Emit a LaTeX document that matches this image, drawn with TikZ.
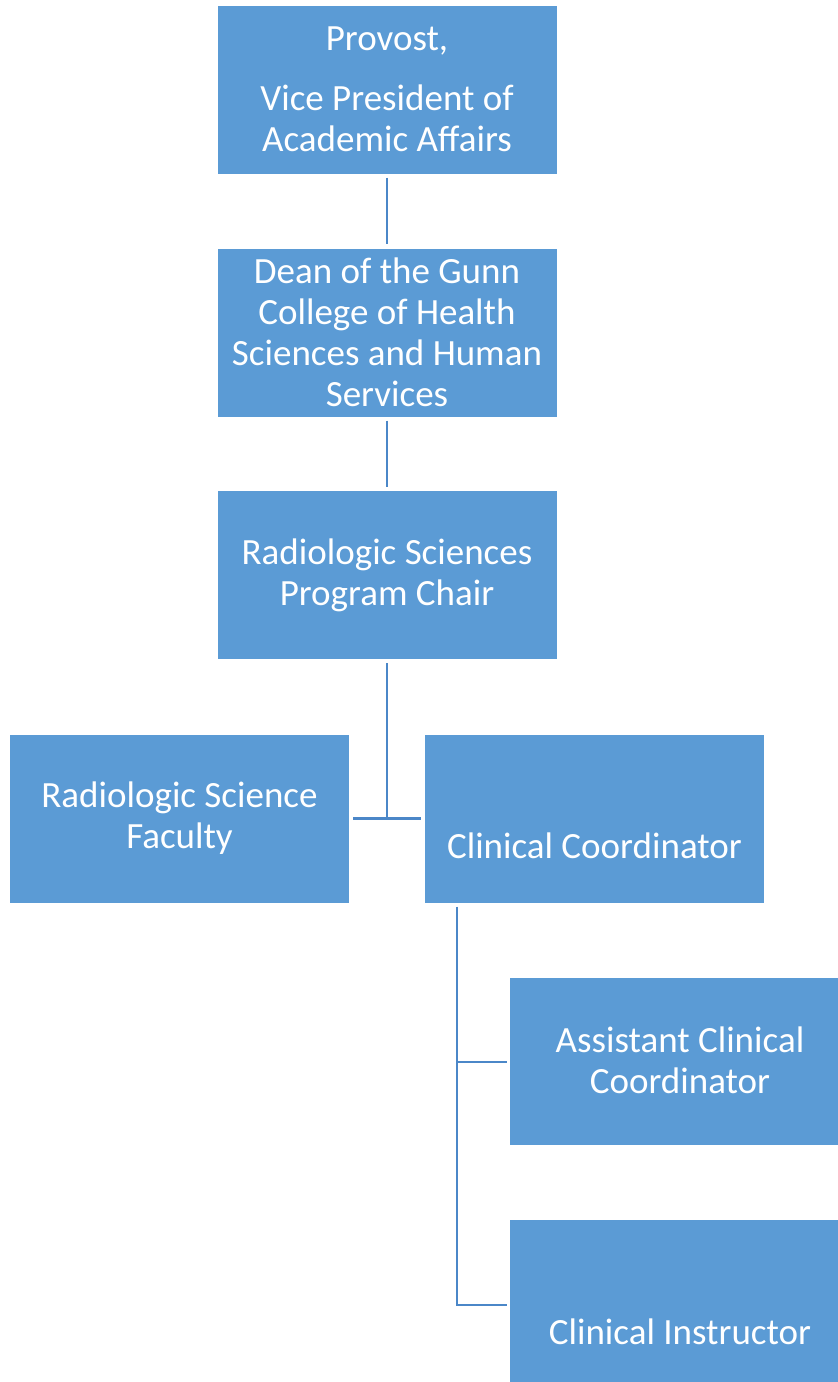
\documentclass[tikz,border=0pt]{standalone}
\usepackage{fontspec}
\setmainfont{Carlito}
\definecolor{boxblue}{HTML}{5B9BD5}
\definecolor{lineblue}{RGB}{75,135,200}
\newcommand{\orgfont}{\fontsize{37}{41}\selectfont}
\begin{document}
\begin{tikzpicture}[x=1pt,y=-1pt,
  orgbox/.style={draw=none,fill=boxblue,text=white,inner sep=0pt,
    minimum width=339pt,minimum height=168pt,align=center,
    font=\orgfont},
  conn/.style={draw=lineblue,line width=2.8pt,shorten <=4pt,shorten >=4pt},
  connb/.style={draw=lineblue,line width=2.8pt}]
\useasboundingbox (0,0) rectangle (838,1382);
\node[orgbox] (prov) at (387,89.5) {};
\node[text=white,font=\orgfont] (provt1) at (387,41) {Provost,};
\node[text=white,align=center,font=\orgfont] (provt2) at (387,118) {Vice President of\\Academic Affairs};
\node[orgbox] (dean) at (387,332.5) {Dean of the Gunn\\College of Health\\Sciences and Human\\Services};
\node[orgbox] (chair) at (387,575) {Radiologic Sciences\\Program Chair};
\node[orgbox] (fac) at (179.5,818.5) {Radiologic Science\\Faculty};
\node[orgbox,label={[text=white,font=\orgfont,yshift=-27pt]center:Clinical Coordinator}] (cc) at (594.5,818.5) {};
\node[orgbox,minimum width=328pt,minimum height=167pt,
  label={[text=white,align=center,font=\orgfont,xshift=6pt,yshift=1pt]center:Assistant Clinical\\Coordinator}] (acc) at (674,1061.5) {};
\node[orgbox,minimum width=328pt,minimum height=162pt,
  label={[text=white,font=\orgfont,xshift=6pt,yshift=-31pt]center:Clinical Instructor}] (ci) at (674,1301) {};
\coordinate (j1) at (387,818);
\coordinate (j2) at (457,1062);
\coordinate (j3) at (457,1305);
\draw[conn] (prov.south) -- (dean.north);
\draw[conn] (dean.south) -- (chair.north);
\draw[connb,shorten <=4pt] (chair.south) -- (j1);
\draw[conn] (fac.east) -- (cc.west);
\draw[connb,shorten <=4pt] (cc.south -| j3) -- (j3) -- ([xshift=-3pt]ci.west |- j3);
\draw[connb] (j2) -- ([xshift=-3pt]acc.west |- j2);
\end{tikzpicture}
\end{document}
